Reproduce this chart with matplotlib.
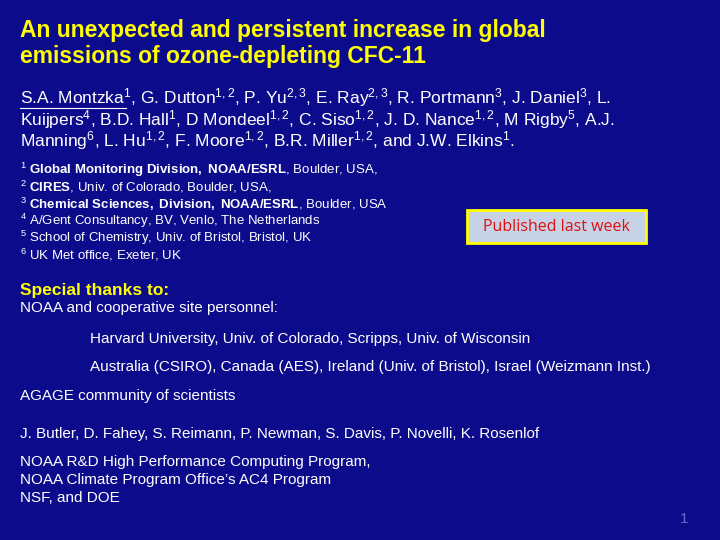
import matplotlib
matplotlib.use("Agg")
import matplotlib.pyplot as plt
from matplotlib.patches import Rectangle

plt.rcParams['font.family'] = ['Liberation Sans', 'DejaVu Sans']
plt.rcParams['mathtext.fontset'] = 'custom'
plt.rcParams['mathtext.rm'] = 'Liberation Sans'
plt.rcParams['mathtext.it'] = 'Liberation Sans'
plt.rcParams['mathtext.bf'] = 'Liberation Sans:bold'

title_lines = ["An unexpected and persistent increase in global",
               "emissions of ozone-depleting CFC-11"]
author_lines = [
    r"S.A. Montzka$^{1}$, G. Dutton$^{1,2}$, P. Yu$^{2,3}$, E. Ray$^{2,3}$, R. Portmann$^{3}$, J. Daniel$^{3}$, L.",
    r"Kuijpers$^{4}$, B.D. Hall$^{1}$, D Mondeel$^{1,2}$, C. Siso$^{1,2}$, J. D. Nance$^{1,2}$, M Rigby$^{5}$, A.J.",
    r"Manning$^{6}$, L. Hu$^{1,2}$, F. Moore$^{1,2}$, B.R. Miller$^{1,2}$, and J.W. Elkins$^{1}$.",
]
affil_lines = [
    r"$^{1}$ $\mathbf{Global\ Monitoring\ Division,\ NOAA/ESRL}$, Boulder, USA,",
    r"$^{2}$ $\mathbf{CIRES}$, Univ. of Colorado, Boulder, USA,",
    r"$^{3}$ $\mathbf{Chemical\ Sciences,\ Division,\ NOAA/ESRL}$, Boulder, USA",
    r"$^{4}$ A/Gent Consultancy, BV, Venlo, The Netherlands",
    r"$^{5}$ School of Chemistry, Univ. of Bristol, Bristol, UK",
    r"$^{6}$ UK Met office, Exeter, UK",
]
thanks = [
    (20, 308, "NOAA and cooperative site personnel:"),
    (90, 339, "Harvard University, Univ. of Colorado, Scripps, Univ. of Wisconsin"),
    (90, 367, "Australia (CSIRO), Canada (AES), Ireland (Univ. of Bristol), Israel (Weizmann Inst.)"),
    (20, 396, "AGAGE community of scientists"),
    (20, 434, "J. Butler, D. Fahey, S. Reimann, P. Newman, S. Davis, P. Novelli, K. Rosenlof"),
    (20, 462, "NOAA R&D High Performance Computing Program,"),
    (20, 480, "NOAA Climate Program Office\u2019s AC4 Program"),
    (20, 498, "NSF, and DOE"),
]

W, H = 720, 540
fig = plt.figure(figsize=(7.2, 5.4), dpi=100)
fig.patch.set_facecolor('#0B0B8C')

def T(x, y, s, **kw):
    fig.text(x / W, 1 - y / H, s, va='center', ha=kw.pop('ha', 'left'), **kw)

for i, s in enumerate(title_lines):
    T(20, 31 + i * 26, s, color='#FFFF00', fontsize=16.5, fontweight='bold')
for i, s in enumerate(author_lines):
    T(20, 98 + i * 21.5, s, color='white', fontsize=12.5)
fig.add_artist(plt.Line2D([20 / W, 126 / W], [1 - 108 / H] * 2, color='white', lw=0.8))
for i, s in enumerate(affil_lines):
    T(20, 170 + i * 17, s, color='white', fontsize=9.5)
T(20, 291, "Special thanks to:", color='#FFFF00', fontsize=12.5, fontweight='bold')
for x, y, s in thanks:
    T(x, y, s, color='white', fontsize=11)

fig.add_artist(Rectangle((467 / W, 1 - 243 / H), 179 / W, 33 / H, facecolor='#C8D2E6',
                         edgecolor='#FFFF00', lw=2, transform=fig.transFigure))
T(556, 227, "Published last week", color='#DD1111', fontsize=11.5, ha='center', family='Open Sans')
T(680, 519, "1", color='#6666CC', fontsize=11)

fig.savefig("out.png", dpi=100, facecolor=fig.get_facecolor())
